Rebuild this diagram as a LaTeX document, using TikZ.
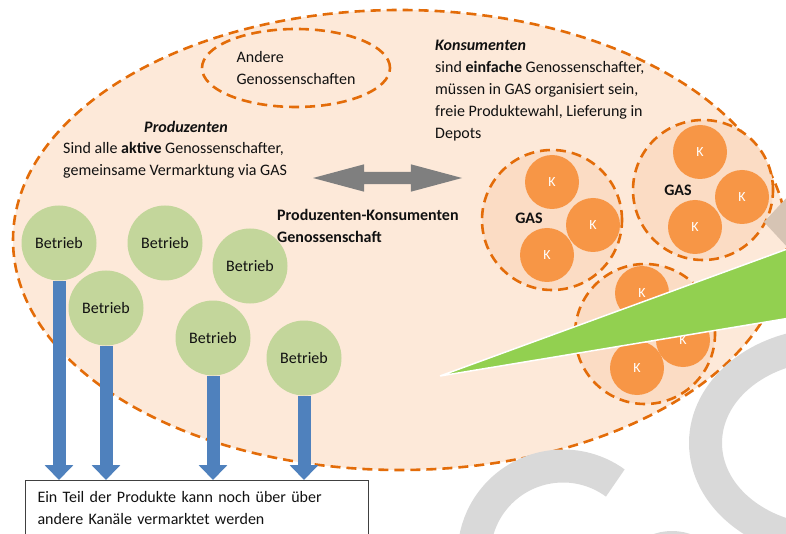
\documentclass[tikz,border=0pt]{standalone}
\usepackage{fontspec}
\setmainfont{Carlito}
\usetikzlibrary{shapes.geometric,shapes.arrows,arrows.meta}
\definecolor{coopfill}{HTML}{FDE9D9}
\definecolor{coopline}{HTML}{E36C09}
\definecolor{gasfill}{HTML}{FBDCC4}
\definecolor{korange}{HTML}{F79646}
\definecolor{farmgreen}{HTML}{C3D69B}
\definecolor{flowblue}{HTML}{4F81BD}
\definecolor{linkgray}{HTML}{7F7F7F}
\definecolor{wedgegreen}{HTML}{92D050}
\definecolor{logogray}{HTML}{D9D9D9}
\definecolor{tanshade}{HTML}{D6C4B4}
\definecolor{ink}{HTML}{111111}

\begin{document}
\begin{tikzpicture}[x=1pt, y=-1pt, font=\fontsize{16}{22}\selectfont, text=ink,
  orangedash/.style={draw=coopline, line width=2.6pt, dash pattern=on 10pt off 6pt},
  gas/.style={circle, orangedash, fill=gasfill, minimum size=140pt, inner sep=0pt},
  kunde/.style={circle, fill=korange, minimum size=54pt, inner sep=0pt,
                text=white, font=\fontsize{14}{16}\selectfont},
  betrieb/.style={circle, fill=farmgreen, minimum size=75pt, inner sep=0pt},
  flow/.style={draw=flowblue, line width=13pt, -{Triangle[width=28pt,length=15pt]}}]
  \useasboundingbox (0,0) rectangle (786,534);
  \clip (0,0) rectangle (786,534);

  % the cooperative
  \node (coop) [ellipse, orangedash, fill=coopfill, minimum width=774pt,
               minimum height=460pt] at (400,240) {};
  \node (andere) [ellipse, orangedash, minimum width=188pt, minimum height=78pt,
                 inner sep=0pt, align=left] at (296,68) {Andere\\Genossenschaften};

  \node (prodhead) at (186,127) {\textbf{\textit{Produzenten}}};
  \node (prodtext) [anchor=west, inner sep=0pt, align=left] at (63,160)
        {Sind alle \textbf{aktive} Genossenschafter,\\gemeinsame Vermarktung via GAS};
  \node (konstext) [anchor=west, inner sep=0pt, align=left] at (435,91)
        {\textbf{\textit{Konsumenten}}\\sind \textbf{einfache} Genossenschafter,\\
         müssen in GAS organisiert sein,\\freie Produktewahl, Lieferung in\\Depots};
  \node (pktext) [anchor=west, inner sep=0pt, align=left] at (277,226)
        {\textbf{Produzenten-Konsumenten}\\\textbf{Genossenschaft}};

  \node (link) [double arrow, fill=linkgray, minimum height=149pt, minimum width=27pt,
               inner sep=6pt, double arrow head extend=7.5pt,
               double arrow tip angle=30] at (387.5,178) {};

  % GAS groups
  \node (gas1) [gas] at (552,220) {};
  \node (gas2) [gas] at (703,190) {};
  \node (gas3) [gas] at (645,334) {};
  \node (gas1txt) at (529,218) {\textbf{GAS}};
  \node (gas2txt) at (678,190) {\textbf{GAS}};

  \node (k11) [kunde] at (552,182) {K};
  \node (k12) [kunde] at (593,225) {K};
  \node (k13) [kunde] at (547,255) {K};
  \node (k21) [kunde] at (700,152) {K};
  \node (k22) [kunde] at (742,197) {K};
  \node (k23) [kunde] at (695,227) {K};
  \node (k31) [kunde] at (642,293) {K};
  \node (k32) [kunde] at (683,340) {K};
  \node (k33) [kunde] at (637,368) {K};

  % farms
  \node (b1) [betrieb] at (59,243)  {Betrieb};
  \node (b2) [betrieb] at (165,243) {Betrieb};
  \node (b3) [betrieb] at (250,266) {Betrieb};
  \node (b4) [betrieb] at (106,308) {Betrieb};
  \node (b5) [betrieb] at (213,338) {Betrieb};
  \node (b6) [betrieb] at (304,358) {Betrieb};

  \node (rest) [draw=black!75, line width=1pt, anchor=north west, text width=319pt,
               inner xsep=12pt, inner ysep=11pt, text depth=40pt, align=left] at (25,480)
        {Ein Teil der Produkte kann noch über über\\andere Kanäle vermarktet werden};

  \draw [flow] (b1.south) -- (b1.south |- rest.north);
  \draw [flow] (b4.south) -- (b4.south |- rest.north);
  \draw [flow] (b5.south) -- (b5.south |- rest.north);
  \draw [flow] (b6.south) -- (b6.south |- rest.north);

  % overlays at the right
  \fill [tanshade] (764,222) -- (790,194) -- (790,250) -- cycle;
  \filldraw [fill=wedgegreen, draw=white, line width=1.5pt]
        (440,376) -- (790,248) -- (790,318) -- cycle;
  \fill [logogray, even odd rule] (830,443) ellipse [x radius=141pt, y radius=115pt]
        (830,443) ellipse [x radius=108pt, y radius=82pt];
  \draw [logogray, line width=33pt] (615.3,483) arc [start angle=54, end angle=205, radius=89pt];
  \fill [logogray] (672,588) circle [radius=57pt];
\end{tikzpicture}
\end{document}
